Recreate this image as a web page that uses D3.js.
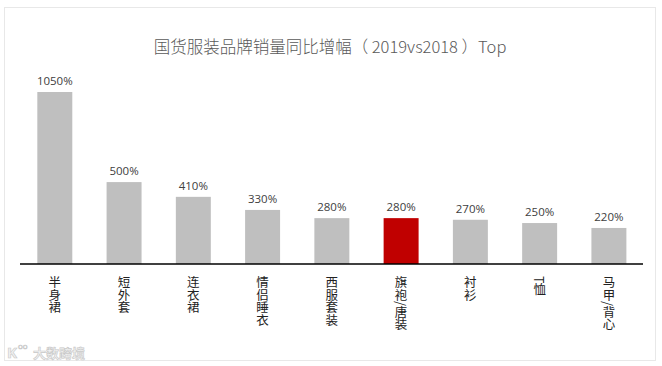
<!DOCTYPE html>
<html><head><meta charset="utf-8">
<script src="https://cdn.jsdelivr.net/npm/d3@7"></script>
<style>body{margin:0;background:#fff;}svg{display:block;}</style>
</head><body>
<script>
const categories = ["半身裙","短外套","连衣裙","情侣睡衣","西服套装","旗袍/唐装","衬衫","T恤","马甲/背心"];
const values = [1050, 500, 410, 330, 280, 280, 270, 250, 220];
const valueLabels = ["1050%","500%","410%","330%","280%","280%","270%","250%","220%"];
const highlight = ["旗袍/唐装"];
const title = "国货服装品牌销量同比增幅（ 2019vs2018 ）Top";

const W = 662, H = 366;
const svg = d3.select("body").append("svg").attr("width", W).attr("height", H);

svg.append("rect").attr("x",4.5).attr("y",7.5).attr("width",651).attr("height",353)
  .attr("fill","none").attr("stroke","#d0d0d0").attr("stroke-dasharray","1,1");

svg.append("text").attr("x",330).attr("y",53).attr("text-anchor","middle")
  .attr("font-family","'Noto Sans CJK SC', sans-serif").attr("font-size",16.5)
  .attr("font-weight",300)
  .attr("fill","#595959").text(title);

const x = d3.scaleBand().domain(categories).range([20, 643.7]).paddingInner(0.495).paddingOuter(0.25);
const y = d3.scaleLinear().domain([0, 1050]).range([264, 92]);

svg.selectAll("rect.bar").data(categories).join("rect").attr("class","bar")
  .attr("x", d => x(d)).attr("width", x.bandwidth())
  .attr("y", (d,i) => y(values[i])).attr("height", (d,i) => y(0) - y(values[i]))
  .attr("fill", d => highlight.includes(d) ? "#c00000" : "#bfbfbf");

svg.selectAll("text.val").data(categories).join("text").attr("class","val")
  .attr("x", d => x(d) + x.bandwidth()/2).attr("y", (d,i) => y(values[i]) - 7)
  .attr("text-anchor","middle").attr("font-family","'Open Sans', sans-serif")
  .attr("font-size",11.5).attr("fill","#404040").text((d,i) => valueLabels[i]);

const axis = d3.axisBottom(x).tickSize(0).tickFormat("");
const g = svg.append("g").attr("transform","translate(0,264)").call(axis);
g.select(".domain").attr("stroke","#000").attr("stroke-width",1.6).attr("d","M20,0H643");

svg.selectAll("text.cat").data(categories).join("text").attr("class","cat")
  .attr("x", d => x(d) + x.bandwidth()/2).attr("y", 276)
  .attr("font-family","'Noto Sans CJK SC', sans-serif").attr("font-size",12.5)
  .attr("fill","#222").style("writing-mode","vertical-rl")
  .attr("text-anchor","start").text(d => d);

svg.append("text").attr("x",33).attr("y",358)
  .attr("font-family","'Noto Sans CJK SC', sans-serif").attr("font-size",13).attr("font-weight","bold")
  .attr("fill","#f2f2f2").attr("stroke","#c8c8c8").attr("stroke-width",0.6)
  .text("大数跨境");
svg.append("text").attr("x",7).attr("y",358)
  .attr("font-family","'Open Sans', sans-serif").attr("font-size",15).attr("font-weight","bold")
  .attr("fill","#f2f2f2").attr("stroke","#c8c8c8").attr("stroke-width",0.6)
  .text("K");
svg.append("text").attr("x",18).attr("y",349)
  .attr("font-family","'Open Sans', sans-serif").attr("font-size",8)
  .attr("fill","none").attr("stroke","#c8c8c8").attr("stroke-width",0.6)
  .text("oo");
</script>
</body></html>
